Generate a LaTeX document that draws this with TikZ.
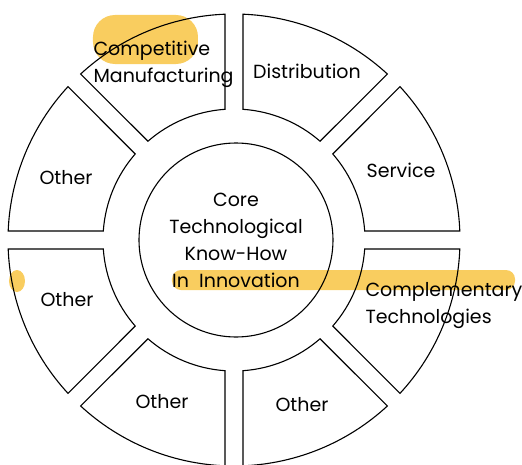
\documentclass[tikz,border=0pt]{standalone}
\usepackage{fontspec}
\setmainfont{Poppins}
\definecolor{marker}{RGB}{249,205,95}
\begin{document}
\begin{tikzpicture}
    [x=1pt,y=1pt,line width=1.1pt,every node/.style={font=\fontsize{19}{27}\selectfont, inner sep=0pt}]
    \useasboundingbox (-234,-224) rectangle (288,240);

    % highlighter marks
    \fill[marker, rounded corners=22pt] (-141,176) rectangle (-36,225);
    \fill[marker, rounded corners=9pt] (-62,-50) rectangle (281,-30);
    \fill[marker] (-217,-41) ellipse [x radius=8, y radius=11];

    % ring of eight segments
    \foreach \a in {0,45,...,315}
      \draw (\a+3.94:131) arc [start angle=\a+3.94, end angle=\a+41.06, radius=131]
        -- (\a+42.72:226) arc [start angle=\a+42.72, end angle=\a+2.28, radius=226] -- cycle;

    \node[draw, circle, minimum size=194pt, align=center] (core) at (2,0)
      {Core\\Technological\\Know-How\\In\ \ Innovation};

    \node[align=left, anchor=west] (manuf) at (-141,176) {Competitive\\Manufacturing};
    \node (dist) at (73,169) {Distribution};
    \node (serv) at (167,70) {Service};
    \node[align=left, anchor=west] (compl) at (131,-66) {Complementary\\Technologies};
    \node (oth1) at (-168,62) {Other};
    \node (oth2) at (-167,-60) {Other};
    \node (oth3) at (-72,-162) {Other};
    \node (oth4) at (68,-165) {Other};
\end{tikzpicture}
\end{document}
